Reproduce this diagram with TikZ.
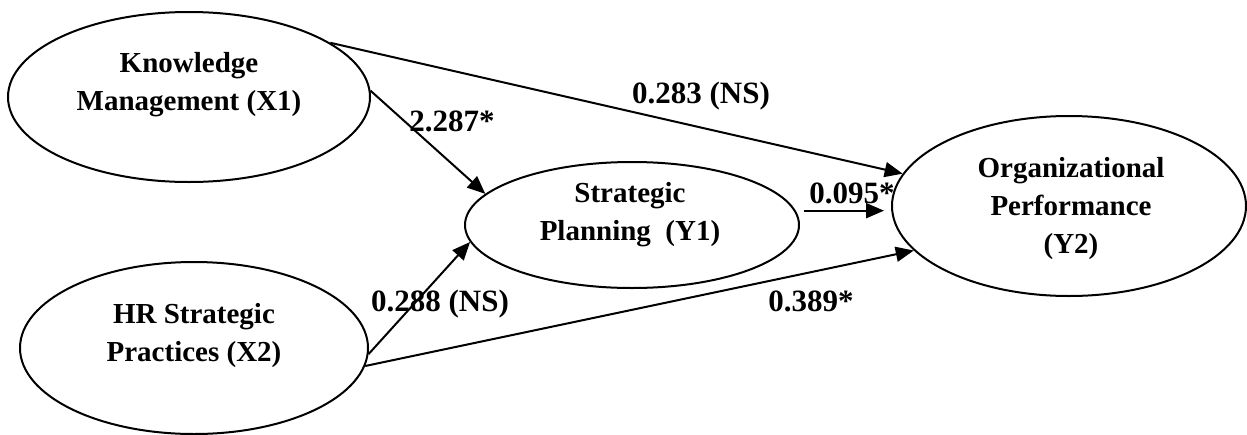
\documentclass[tikz,border=0pt]{standalone}
\usepackage{fontspec}
\setmainfont{Liberation Serif}
\usetikzlibrary{arrows.meta,shapes.geometric}
\begin{document}
\begin{tikzpicture}[x=1pt,y=-1pt,
  ell/.style={draw, ellipse, line width=2pt, inner sep=0pt},
  txt/.style={font=\fontsize{29}{38}\selectfont\bfseries, inner sep=0pt, anchor=base},
  lbl/.style={font=\fontsize{31}{38}\selectfont\bfseries, inner sep=0pt, anchor=base},
  conn/.style={line width=2pt, -{Triangle[length=18pt,width=15pt]}}]
\useasboundingbox (0,0) rectangle (1247,434);
% ellipses
\node[ell, minimum width=362pt, minimum height=170pt] (km) at (189,97) {};
\node[ell, minimum width=348pt, minimum height=172pt] (hr) at (194,348) {};
\node[ell, minimum width=334pt, minimum height=126pt] (sp) at (632,225) {};
\node[ell, minimum width=354pt, minimum height=180pt] (op) at (1069,206) {};
% ellipse texts
\node[txt] (kmt) at (189,72) {\begin{tabular}[t]{@{}c@{}}Knowledge\\Management (X1)\end{tabular}};
\node[txt] (hrt) at (194,323) {\begin{tabular}[t]{@{}c@{}}HR Strategic\\Practices (X2)\end{tabular}};
\node[txt] (spt) at (630,202) {\begin{tabular}[t]{@{}c@{}}Strategic\\Planning~~(Y1)\end{tabular}};
\node[txt] (opt) at (1071,177) {\begin{tabular}[t]{@{}c@{}}Organizational\\Performance\\(Y2)\end{tabular}};
% connectors
\draw[conn] (km.2) -- (sp.168);
\draw[conn] (km.21) -- (op.169.5);
\draw[conn] (hr.-2) -- (sp.186);
\draw[conn] (hr.-6) -- (op.196);
\draw[conn, shorten <=8pt, shorten >=7pt] (sp.5) -- (op.west |- sp.5);
% labels
\node[lbl] (l1) at (452,131) {2.287*};
\node[lbl] (l2) at (701,103) {0.283 (NS)};
\node[lbl] (l3) at (852,203) {0.095*};
\node[lbl] (l4) at (440,311) {0.288 (NS)};
\node[lbl] (l5) at (811,311) {0.389*};
\end{tikzpicture}
\end{document}
